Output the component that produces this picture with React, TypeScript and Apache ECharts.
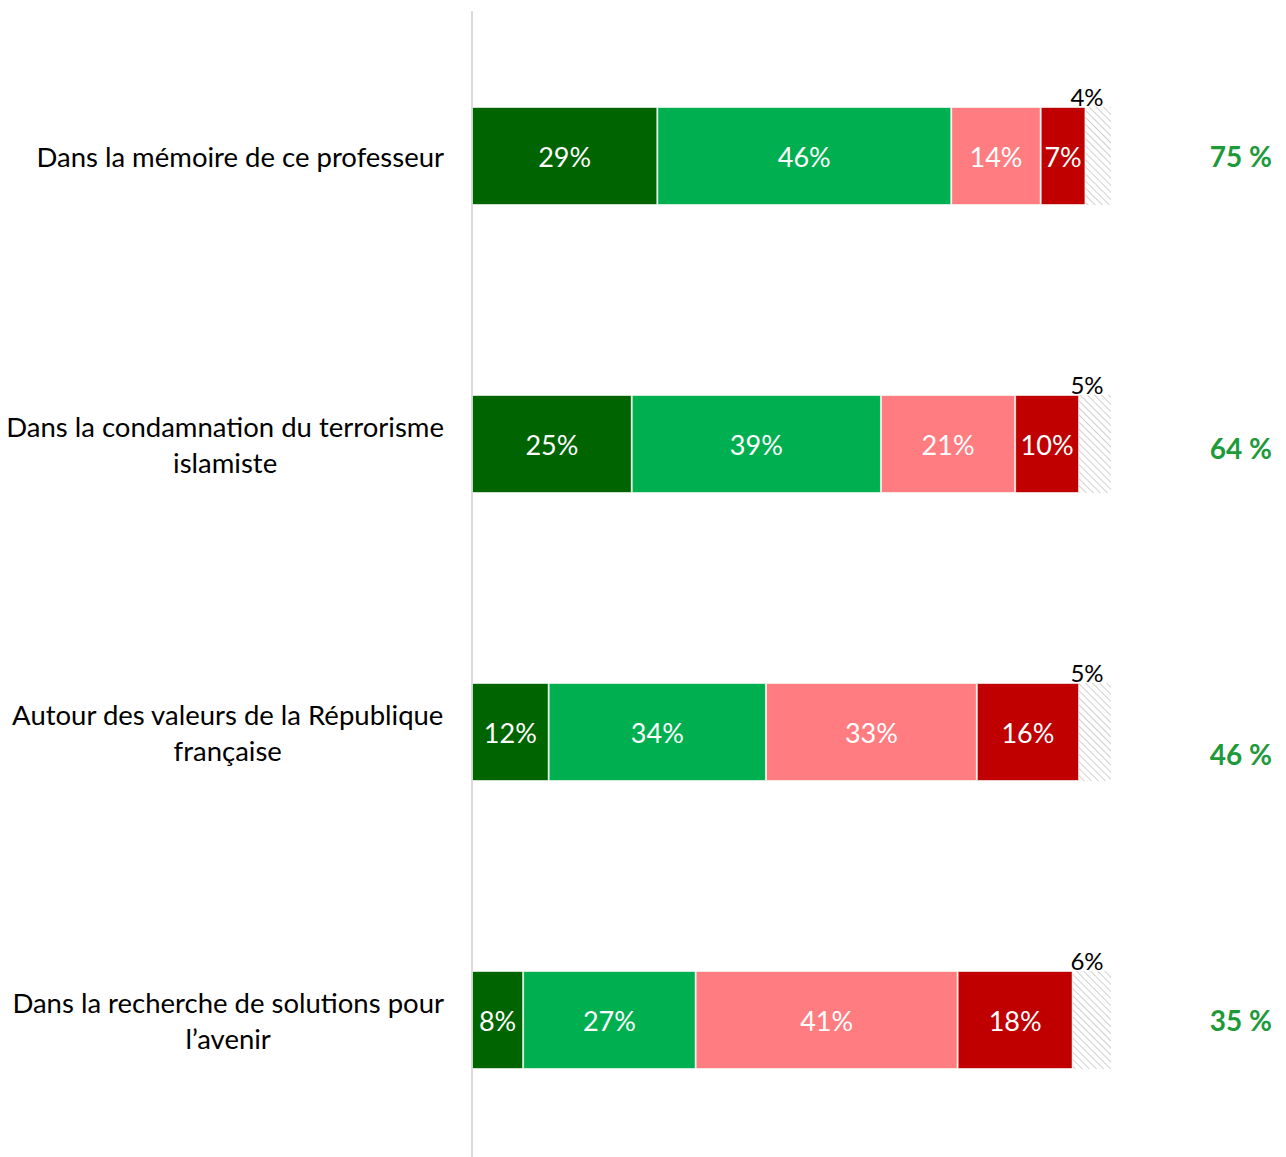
import React, { useEffect, useRef } from "react";
import * as echarts from "echarts";

const categories = [
  "Dans la mémoire de ce professeur",
  "Dans la condamnation du terrorisme\nislamiste",
  "Autour des valeurs de la République\nfrançaise",
  "Dans la recherche de solutions pour\nl’avenir",
];
const tresValues = [29, 25, 12, 8];
const plutotValues = [46, 39, 34, 27];
const plutotPasValues = [14, 21, 33, 41];
const pasDuToutValues = [7, 10, 16, 18];
const nspValues = [4, 5, 5, 6];
const totalLabels = ["75 %", "64 %", "46 %", "35 %"];
const totalYOffsets = [0, 4, 22, 0];

const FONT = "Lato, 'Open Sans', sans-serif";

export default function App() {
  const ref = useRef<HTMLDivElement>(null);
  useEffect(() => {
    document.body.style.margin = "0";
    document.body.style.overflow = "hidden";
    const chart = echarts.init(ref.current!, null, { renderer: "svg" });
    const insideLabel = {
      show: true,
      position: "inside",
      color: "#ffffff",
      fontSize: 27,
      fontFamily: FONT,
      formatter: (p: any) => p.value + "%",
    };
    const mk = (name: string, data: number[], color: string) => ({
      name,
      type: "bar",
      stack: "s",
      data,
      barWidth: 98,
      itemStyle: { color, borderColor: "rgba(255,255,255,0.6)", borderWidth: 1 },
      label: insideLabel,
    });
    chart.setOption({
      animation: false,
      grid: { left: 472, right: 175, top: 12, height: 1152 },
      xAxis: { type: "value", min: 0, max: 100, show: false },
      yAxis: {
        type: "category",
        inverse: true,
        data: categories,
        axisLine: { show: true, lineStyle: { color: "#d9d9d9", width: 2 } },
        axisTick: { show: false },
        axisLabel: {
          color: "#000000",
          fontSize: 27.5,
          fontFamily: FONT,
          lineHeight: 36,
          margin: 28,
          align: "right",
          formatter: (v: string) =>
            v
              .split("\n")
              .map((l) => "{c|" + l + "}")
              .join("\n"),
          rich: {
            c: {
              align: "center",
              color: "#000000",
              fontSize: 27.5,
              fontFamily: FONT,
              lineHeight: 36,
            },
          },
        },
      },
      series: [
        mk("Tout à fait", tresValues, "#006400"),
        mk("Plutôt", plutotValues, "#00b050"),
        mk("Plutôt pas", plutotPasValues, "#ff7c80"),
        mk("Pas du tout", pasDuToutValues, "#c00000"),
        {
          name: "NSP",
          type: "bar",
          stack: "s",
          data: nspValues.map((v) => ({
            value: v,
            label: { offset: [-24 + 3.195 * v, 6] },
          })),
          barWidth: 98,
          itemStyle: {
            color: "#ffffff",
            decal: {
              symbol: "rect",
              dashArrayX: [1, 0],
              dashArrayY: [1, 4],
              rotation: Math.PI / 4,
              color: "#d0d0d0",
              backgroundColor: "#ffffff",
            },
          },
          label: {
            show: true,
            position: "top",
            color: "#000000",
            fontSize: 24,
            fontFamily: FONT,
            formatter: (p: any) => p.value + "%",
          },
        },
      ],
    });
    const graphic = categories.map((c, i) => {
      const y = chart.convertToPixel({ yAxisIndex: 0 }, i) as number;
      return {
        type: "text",
        x: 1272,
        y: y + totalYOffsets[i],
        style: {
          text: totalLabels[i],
          fill: "#1e9a3a",
          font: `bold 28px ${FONT}`,
          textAlign: "right",
          textVerticalAlign: "middle",
        },
      };
    });
    chart.setOption({ graphic });
    return () => chart.dispose();
  }, []);
  return <div ref={ref} style={{ width: 1286, height: 1164 }} />;
}
